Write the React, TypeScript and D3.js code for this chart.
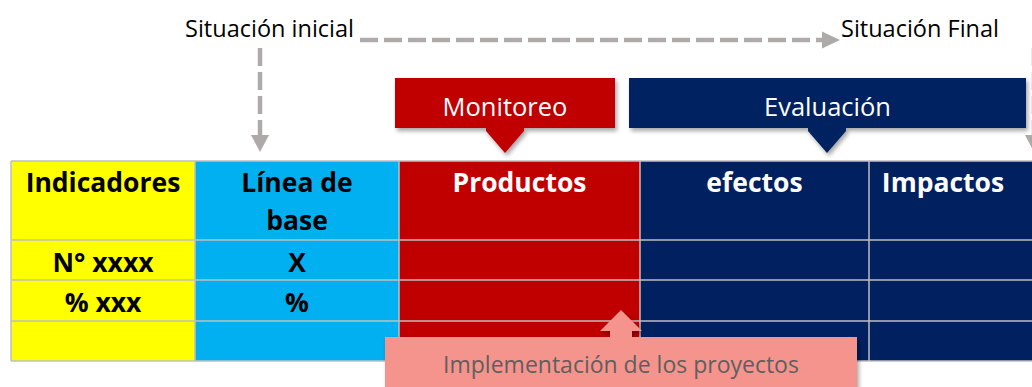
import React, { useEffect, useRef } from "react";
import * as d3 from "d3";

// table content
const columns = ["Indicadores", "Línea de|base", "Productos", "efectos", "Impactos"];
const columnColors = ["#FFFF00", "#00B0F0", "#C00000", "#002060", "#002060"];
const columnText = ["#000000", "#000000", "#FFFFFF", "#FFFFFF", "#FFFFFF"];
const indicators = ["N° xxxx", "% xxx", ""];
const baseline = ["X", "%", ""];

// labels above / below the table
const situations = ["Situación inicial", "Situación Final"];
const phases = [
  { label: "Monitoreo", color: "#C00000" },
  { label: "Evaluación", color: "#002060" },
];
const implementation = "Implementación de los proyectos";

// layout
const colEdges = [11, 195, 399, 640, 869, 1045];
const rowEdges = [161, 240, 280, 321, 361];

const App = () => {
  const svgRef = useRef<SVGSVGElement>(null);

  useEffect(() => {
    const width = 1032;
    const height = 387;
    const svg = d3.select(svgRef.current).attr("width", width).attr("height", height);
    svg.selectAll("*").remove();
    const font = "'Open Sans', sans-serif";

    const defs = svg.append("defs");
    defs
      .append("filter")
      .attr("id", "shadow")
      .attr("x", "-10%")
      .attr("y", "-30%")
      .attr("width", "120%")
      .attr("height", "170%")
      .append("feDropShadow")
      .attr("dx", 2)
      .attr("dy", 3)
      .attr("stdDeviation", 2)
      .attr("flood-color", "#000")
      .attr("flood-opacity", 0.35);

    const x = (i: number) => colEdges[i];
    const y = (i: number) => rowEdges[i];
    const gray = "#AEAAAA";

    // table cells
    const table = svg.append("g");
    columns.forEach((col, c) => {
      table
        .append("rect")
        .attr("x", x(c))
        .attr("y", y(0))
        .attr("width", x(c + 1) - x(c))
        .attr("height", y(rowEdges.length - 1) - y(0))
        .attr("fill", columnColors[c]);
    });
    // grid
    rowEdges.forEach((ry) => {
      table
        .append("line")
        .attr("x1", x(0))
        .attr("x2", x(colEdges.length - 1))
        .attr("y1", ry)
        .attr("y2", ry)
        .attr("stroke", "#BFBFBF")
        .attr("stroke-width", 1.5);
    });
    colEdges.forEach((cx) => {
      table
        .append("line")
        .attr("x1", cx)
        .attr("x2", cx)
        .attr("y1", y(0))
        .attr("y2", y(rowEdges.length - 1))
        .attr("stroke", "#BFBFBF")
        .attr("stroke-width", 1.5);
    });

    // header text
    columns.forEach((col, c) => {
      const cx = c === 4 ? 943 : (x(c) + x(c + 1)) / 2;
      col.split("|").forEach((line, k) => {
        table
          .append("text")
          .attr("x", cx)
          .attr("y", 192 + k * 38)
          .attr("text-anchor", "middle")
          .attr("font-family", font)
          .attr("font-weight", "bold")
          .attr("font-size", 26.5)
          .attr("fill", columnText[c])
          .text(line);
      });
    });
    // row text
    [indicators, baseline].forEach((vals, c) => {
      vals.forEach((v, r) => {
        table
          .append("text")
          .attr("x", (x(c) + x(c + 1)) / 2)
          .attr("y", (y(r + 1) + y(r + 2)) / 2 + 11.5)
          .attr("text-anchor", "middle")
          .attr("font-family", font)
          .attr("font-weight", "bold")
          .attr("font-size", 26.5)
          .attr("fill", "#000")
          .text(v);
      });
    });

    // situation labels + dashed arrows
    const top = svg.append("g");
    top
      .append("text")
      .attr("x", 354)
      .attr("y", 37)
      .attr("text-anchor", "end")
      .attr("font-family", font)
      .attr("font-size", 23.5)
      .attr("fill", "#000")
      .text(situations[0]);
    top
      .append("text")
      .attr("x", 841)
      .attr("y", 37)
      .attr("font-family", font)
      .attr("font-size", 23.5)
      .attr("fill", "#000")
      .text(situations[1]);

    const dash = (x1: number, y1: number, x2: number, y2: number) =>
      top
        .append("line")
        .attr("x1", x1)
        .attr("y1", y1)
        .attr("x2", x2)
        .attr("y2", y2)
        .attr("stroke", gray)
        .attr("stroke-width", 4.5)
        .attr("stroke-dasharray", "18 6");

    dash(360, 40, 822, 40);
    top
      .append("path")
      .attr("d", d3.line()([[822, 31.5], [840, 40], [822, 48.5]]) + "Z")
      .attr("fill", gray);

    [260, 1034].forEach((vx) => {
      dash(vx, 48, vx, 135);
      top
        .append("path")
        .attr("d", d3.line()([[vx - 9, 135], [vx, 152], [vx + 9, 135]]) + "Z")
        .attr("fill", gray);
    });

    // phase boxes with down arrows
    const phaseBox = [
      [395, 615],
      [629, 1026],
    ];
    phases.forEach((p, i) => {
      const [bx0, bx1] = phaseBox[i];
      const g = svg.append("g").attr("filter", "url(#shadow)");
      const ax = i === 0 ? 505 : 827;
      g.append("path")
        .attr(
          "d",
          d3.line()([
            [ax - 19, 126],
            [ax + 19, 126],
            [ax + 19, 131],
            [ax, 153],
            [ax - 19, 131],
          ]) + "Z"
        )
        .attr("fill", p.color);
      g.append("rect")
        .attr("x", bx0)
        .attr("y", 78)
        .attr("width", bx1 - bx0)
        .attr("height", 50)
        .attr("fill", p.color);
      svg
        .append("text")
        .attr("x", (bx0 + bx1) / 2)
        .attr("y", 116)
        .attr("text-anchor", "middle")
        .attr("font-family", font)
        .attr("font-size", 25.5)
        .attr("fill", "#fff")
        .text(p.label);
    });

    // implementation box with up arrow
    const salmon = "#F5948C";
    const imp = svg.append("g").attr("filter", "url(#shadow)");
    imp
      .append("path")
      .attr(
        "d",
        d3.line()([
          [610, 340],
          [610, 331],
          [600, 331],
          [621, 310],
          [642, 331],
          [632, 331],
          [632, 340],
        ]) + "Z"
      )
      .attr("fill", salmon);
    imp
      .append("rect")
      .attr("x", 385)
      .attr("y", 337)
      .attr("width", 472)
      .attr("height", 60)
      .attr("fill", salmon);
    svg
      .append("text")
      .attr("x", 621)
      .attr("y", 373)
      .attr("text-anchor", "middle")
      .attr("font-family", font)
      .attr("font-size", 23)
      .attr("fill", "#5F5F5F")
      .text(implementation);
  }, []);

  return (
    <svg
      ref={svgRef}
      style={{ position: "absolute", left: 0, top: 0, background: "#fff" }}
    ></svg>
  );
};

export default App;
